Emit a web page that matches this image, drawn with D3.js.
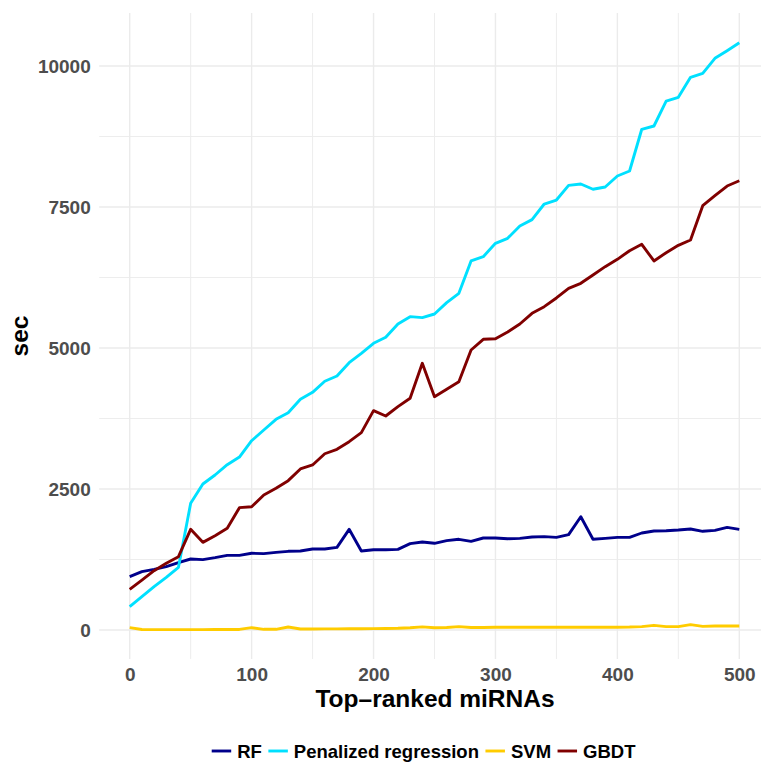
<!DOCTYPE html>
<html lang="en">
    <head>
        <meta charset="utf-8">
        <title>Run time by top-ranked miRNAs</title>
        <script type="text/javascript" src="https://d3js.org/d3.v7.min.js"></script>

        <style type="text/css">
            body {
                margin: 0;
                background-color: #ffffff;
            }

            /* tick labels */
            .tick text {
                font-family: "Liberation Sans", Arial, Helvetica, sans-serif;
                font-size: 19px;
                font-weight: bold;
                fill: #4D4D4D;
            }

            /* axis titles */
            .title {
                font-family: "Liberation Sans", Arial, Helvetica, sans-serif;
                font-size: 24.5px;
                font-weight: bold;
                fill: #000000;
            }

            /* legend labels */
            .legend_labels {
                font-family: "Liberation Sans", Arial, Helvetica, sans-serif;
                font-size: 18.5px;
                font-weight: bold;
                fill: #000000;
            }
        </style>
    </head>

    <body>
        <svg width="761" height="762" id="svg1"></svg>

        <script type="text/javascript">

            // number of top-ranked miRNAs (x)
            const topRanked = d3.range(0, 501, 10);

            // seconds for each method
            const rf = [946, 1034, 1076, 1123, 1194, 1259, 1247, 1283, 1324, 1324,
                        1360, 1354, 1377, 1395, 1401, 1436, 1436, 1466, 1785, 1401,
                        1424, 1424, 1430, 1531, 1560, 1537, 1584, 1608, 1572, 1631,
                        1631, 1619, 1625, 1649, 1655, 1643, 1690, 2009, 1608, 1625,
                        1643, 1643, 1720, 1755, 1761, 1773, 1791, 1750, 1767, 1820,
                        1785];
            const penalized = [413, 590, 768, 934, 1111, 2246, 2589, 2748, 2931, 3067,
                               3356, 3546, 3735, 3853, 4090, 4214, 4410, 4503, 4740, 4905,
                               5083, 5190, 5425, 5556, 5538, 5603, 5804, 5970, 6543, 6619,
                               6856, 6945, 7163, 7276, 7553, 7624, 7884, 7908, 7814, 7855,
                               8050, 8138, 8878, 8936, 9379, 9445, 9800, 9870, 10136, 10272,
                               10413];
            const svm = [41, 8, 6, 6, 6, 6, 6, 8, 8, 10,
                         41, 12, 12, 53, 18, 18, 20, 20, 22, 22,
                         24, 26, 30, 40, 55, 40, 45, 59, 45, 45,
                         48, 48, 48, 48, 48, 48, 48, 48, 48, 50,
                         50, 52, 60, 83, 60, 60, 95, 65, 70, 71,
                         71];
            const gbdt = [721, 886, 1052, 1182, 1300, 1785, 1554, 1672, 1803, 2169,
                          2186, 2394, 2512, 2648, 2855, 2926, 3125, 3204, 3339, 3499,
                          3889, 3794, 3960, 4108, 4728, 4137, 4268, 4403, 4965, 5154,
                          5165, 5284, 5426, 5615, 5733, 5887, 6058, 6147, 6294, 6442,
                          6572, 6725, 6839, 6543, 6690, 6821, 6915, 7523, 7701, 7872,
                          7966];

            const methods = ["RF", "Penalized regression", "SVM", "GBDT"];
            const colors = ["#00008B", "#00E0FF", "#FFCC00", "#800000"];

            const xTicks = [0, 100, 200, 300, 400, 500];
            const xMinor = [50, 150, 250, 350, 450];
            const yTicks = [0, 2500, 5000, 7500, 10000];
            const yMinor = [1250, 3750, 6250, 8750];

            const series = [rf, penalized, svm, gbdt].map((vals, i) => ({
                name: methods[i],
                color: colors[i],
                values: vals.map((v, j) => ({x: topRanked[j], y: v}))
            }));

            const svg = d3.select("#svg1");

            // scales (panel spans the expanded ranges)
            const xScale = d3.scaleLinear()
                            .domain([0, 500])
                            .range([129.7, 739.3]);
            const yScale = d3.scaleLinear()
                            .domain([0, 10000])
                            .range([630, 66]);

            const xLim = [-25, 525];
            const yLim = [-514, 10940];
            const panelLeft = xScale(xLim[0]), panelRight = xScale(xLim[1]);
            const panelTop = yScale(yLim[1]), panelBottom = yScale(yLim[0]);

            // grid lines
            const grid = svg.append("g");
            grid.selectAll(".hminor")
                .data(yMinor)
                .enter()
                .append("line")
                .attr("x1", panelLeft).attr("x2", panelRight)
                .attr("y1", d => yScale(d)).attr("y2", d => yScale(d))
                .style("stroke", "#EDEDED").style("stroke-width", 1.0);
            grid.selectAll(".vminor")
                .data(xMinor)
                .enter()
                .append("line")
                .attr("y1", panelTop).attr("y2", panelBottom)
                .attr("x1", d => xScale(d)).attr("x2", d => xScale(d))
                .style("stroke", "#EDEDED").style("stroke-width", 1.0);
            grid.selectAll(".hmajor")
                .data(yTicks)
                .enter()
                .append("line")
                .attr("x1", panelLeft).attr("x2", panelRight)
                .attr("y1", d => yScale(d)).attr("y2", d => yScale(d))
                .style("stroke", "#EBEBEB").style("stroke-width", 1.4);
            grid.selectAll(".vmajor")
                .data(xTicks)
                .enter()
                .append("line")
                .attr("y1", panelTop).attr("y2", panelBottom)
                .attr("x1", d => xScale(d)).attr("x2", d => xScale(d))
                .style("stroke", "#EBEBEB").style("stroke-width", 1.4);

            // lines
            const line = d3.line()
                        .x(d => xScale(d.x))
                        .y(d => yScale(d.y));

            svg.selectAll(".series")
                .data(series)
                .enter()
                .append("path")
                .attr("d", d => line(d.values))
                .style("fill", "none")
                .style("stroke", d => d.color)
                .style("stroke-width", 2.9)
                .style("stroke-linejoin", "round");

            // axes, no domain or tick marks
            const bottomAxis = d3.axisBottom(xScale).tickValues(xTicks).tickSize(0).tickPadding(8.5);
            const leftAxis = d3.axisLeft(yScale).tickValues(yTicks).tickSize(0).tickPadding(8.5)
                                .tickFormat(d3.format("d"));

            svg.append("g")
                .attr("transform", `translate(0, ${panelBottom})`)
                .call(bottomAxis)
                .call(g => g.select(".domain").remove());

            svg.append("g")
                .attr("transform", `translate(${panelLeft}, 0)`)
                .call(leftAxis)
                .call(g => g.select(".domain").remove());

            // axis titles
            svg.append("text")
                .attr("class", "title")
                .attr("text-anchor", "middle")
                .attr("x", 435)
                .attr("y", 707)
                .text("Top\u2013ranked miRNAs");

            svg.append("text")
                .attr("class", "title")
                .attr("text-anchor", "middle")
                .attr("transform", `translate(28, ${(panelTop + panelBottom) / 2}) rotate(-90)`)
                .text("sec");

            // legend
            const legend = svg.append("g").attr("transform", "translate(211.7, 751)");
            let pos = 0;
            series.forEach(function (s) {
                legend.append("line")
                    .attr("x1", pos).attr("x2", pos + 19.5)
                    .attr("y1", 0).attr("y2", 0)
                    .style("stroke", s.color)
                    .style("stroke-width", 2.9);
                const t = legend.append("text")
                    .attr("class", "legend_labels")
                    .attr("x", pos + 25.5)
                    .attr("y", 6.6)
                    .text(s.name);
                pos = pos + 25.5 + t.node().getComputedTextLength() + 6.5;
            });

        </script>
    </body>
</html>
